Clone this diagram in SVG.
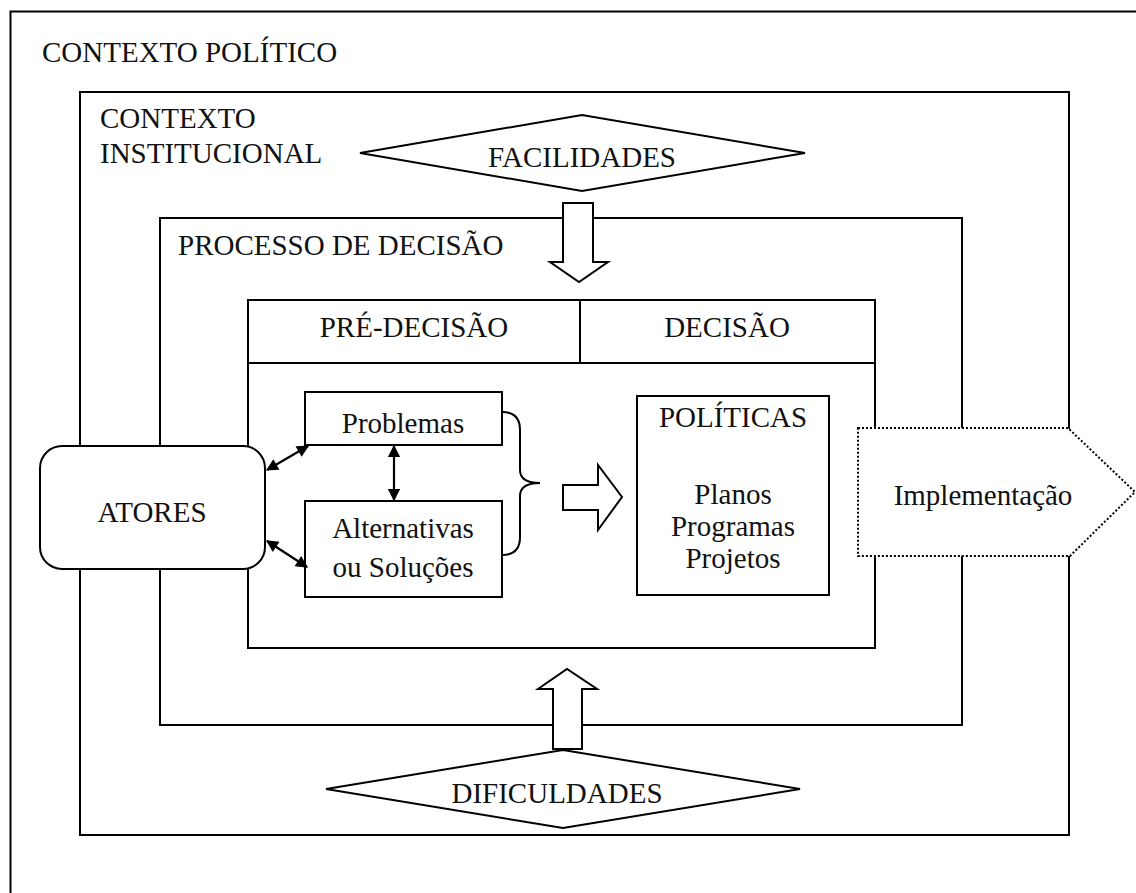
<svg xmlns="http://www.w3.org/2000/svg" width="1136" height="893" viewBox="0 0 1136 893">
<style>
.b{fill:#fff;stroke:#000;stroke-width:2}
.n{fill:none;stroke:#000;stroke-width:2}
.t{font-family:"Liberation Serif","Times New Roman",serif;font-size:29px;fill:#111}
.m{text-anchor:middle}
.c{stroke:#000;stroke-width:2.2;fill:none}
</style>
<defs>
<marker id="ah" viewBox="0 0 10 10" refX="9" refY="5" markerWidth="6" markerHeight="5.5" orient="auto-start-reverse" markerUnits="strokeWidth">
<path d="M0,0 L10,5 L0,10 z" fill="#000"/>
</marker>
</defs>
<rect x="0" y="0" width="1136" height="893" fill="#fff"/>
<g id="contexto-politico">
<rect class="n" x="10.5" y="11.5" width="1140" height="900"/>
<text class="t" x="42" y="62">CONTEXTO POLÍTICO</text>
</g>
<g id="contexto-institucional">
<rect class="n" x="80" y="92" width="989" height="743"/>
<text class="t" x="100" y="128">CONTEXTO</text>
<text class="t" x="100" y="163">INSTITUCIONAL</text>
</g>
<g id="processo-decisao">
<rect class="n" x="160" y="218" width="802" height="507"/>
<text class="t" x="178" y="255">PROCESSO DE DECISÃO</text>
</g>
<g id="fases">
<rect class="n" x="248" y="300" width="627" height="348"/>
<line class="n" x1="248" y1="363" x2="875" y2="363"/>
<line class="n" x1="580" y1="300" x2="580" y2="363"/>
<text class="t m" x="414" y="337">PRÉ-DECISÃO</text>
<text class="t m" x="727" y="337">DECISÃO</text>
</g>
<g id="facilidades">
<polygon class="b" points="360,153 582,115 805,153 582,191"/>
<text class="t m" x="582" y="167">FACILIDADES</text>
</g>
<g id="dificuldades">
<polygon class="b" points="326,789 563,750 800,789 563,828"/>
<text class="t m" x="557" y="803">DIFICULDADES</text>
</g>
<g id="atores">
<rect class="b" x="40" y="446" width="225" height="123" rx="22" ry="22"/>
<text class="t m" x="152" y="522">ATORES</text>
</g>
<g id="problemas">
<rect class="b" x="305" y="392" width="197" height="53"/>
<text class="t m" x="403" y="433">Problemas</text>
</g>
<g id="alternativas">
<rect class="b" x="305" y="501" width="197" height="96"/>
<text class="t m" x="403" y="538">Alternativas</text>
<text class="t m" x="403" y="577">ou Soluções</text>
</g>
<g id="politicas">
<rect class="b" x="637" y="396" width="192" height="199"/>
<text class="t m" x="733" y="427">POLÍTICAS</text>
<text class="t m" x="733" y="504">Planos</text>
<text class="t m" x="733" y="536">Programas</text>
<text class="t m" x="733" y="568">Projetos</text>
</g>
<g id="implementacao">
<polygon points="858,428 1068,428 1135,492 1070,556 858,556" fill="#fff" stroke="#000" stroke-width="2" stroke-dasharray="2,2"/>
<text class="t m" x="983" y="505">Implementação</text>
</g>
<g id="connectors">
<polygon class="b" points="563,203 593,203 593,262 608,262 579,282 550,262 563,262"/>
<polygon class="b" points="553,749 553,689 538,689 567,669 597,689 582,689 582,749"/>
<polygon class="b" points="563,485 598,485 598,465 622,497 598,530 598,510 563,510"/>
<path class="n" d="M502,412 Q520,412 520,430 L520,470 Q520,483 540,483 Q520,483 520,496 L520,537 Q520,555 502,555"/>
<line class="c" x1="267" y1="470" x2="308" y2="446" marker-start="url(#ah)" marker-end="url(#ah)"/>
<line class="c" x1="267" y1="541" x2="307" y2="567" marker-start="url(#ah)" marker-end="url(#ah)"/>
<line class="c" x1="394" y1="446" x2="394" y2="500" marker-start="url(#ah)" marker-end="url(#ah)"/>
</g>
</svg>
